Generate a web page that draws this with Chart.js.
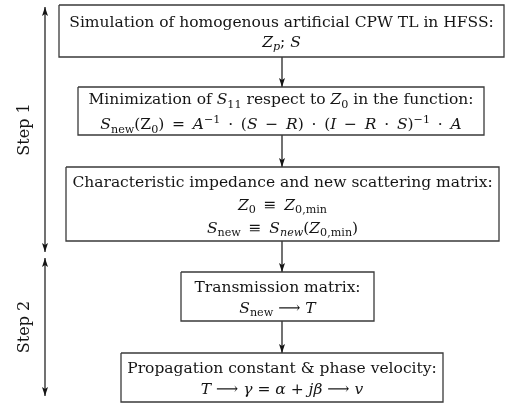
<!DOCTYPE html>
<html>
<head>
<meta charset="utf-8">
<script src="https://cdn.jsdelivr.net/npm/chart.js@4"></script>
<style>
  body { margin: 0; background: #fff; }
  #wrap { width: 510px; height: 405px; }
</style>
</head>
<body>
<div id="wrap"><canvas id="flow" width="510" height="405"></canvas></div>
<script>
// Flow chart content: each box has lines, each line is a list of [text, style] runs
// style: '' plain, 'i' italic, 'b' subscript, 'bi' italic subscript, 'p' superscript
const sp = '\u2002'; // wider space used around math operators
const boxLines = [
    [
        [['Simulation of homogenous artificial CPW TL in HFSS:', '']],
        [['Z', 'i'], ['p', 'bi'], ['; ', ''], ['S', 'i']]
    ],
    [
        [['Minimization of ', ''], ['S', 'i'], ['11', 'b'], [' respect to ', ''], ['Z', 'i'], ['0', 'b'], [' in the function:', '']],
        [['S', 'i'], ['new', 'b'], ['(Z', ''], ['0', 'b'], [')' + sp + '=' + sp, ''], ['A', 'i'], ['\u22121', 'p'], [sp + '\u00b7' + sp + '(', ''], ['S', 'i'], [sp + '\u2212' + sp, ''], ['R', 'i'],
         [')' + sp + '\u00b7' + sp + '(', ''], ['I', 'i'], [sp + '\u2212' + sp, ''], ['R', 'i'], [sp + '\u00b7' + sp, ''], ['S', 'i'], [')', ''], ['\u22121', 'p'], [sp + '\u00b7' + sp, ''], ['A', 'i']]
    ],
    [
        [['Characteristic impedance and new scattering matrix:', '']],
        [['Z', 'i'], ['0', 'b'], [sp + '\u2261' + sp, ''], ['Z', 'i'], ['0,min', 'b']],
        [['S', 'i'], ['new', 'b'], [sp + '\u2261' + sp, ''], ['S', 'i'], ['new', 'bi'], ['(', ''], ['Z', 'i'], ['0,min', 'b'], [')', '']]
    ],
    [
        [['Transmission matrix:', '']],
        [['S', 'i'], ['new', 'b'], [' \u27f6 ', ''], ['T', 'i']]
    ],
    [
        [['Propagation constant & phase velocity:', '']],
        [['T', 'i'], [' \u27f6 ', ''], ['\u03b3', 'i'], [' = ', ''], ['\u03b1', 'i'], [' + ', ''], ['j\u03b2', 'i'], [' \u27f6 ', ''], ['v', 'i']]
    ]
];

// box extents in diagram units (x to the right, y downwards)
const boxLeft = [59, 78, 66, 181, 121];
const boxRight = [504, 484, 499, 374, 443];
const boxTop = [5, 87, 167, 272, 353];
const boxBottom = [57, 135, 241, 321, 402];
const lineGap = [20, 25, 23, 21, 21];

// connecting arrows between boxes
const flowX = 282;

// step brackets on the left
const stepNames = ['Step 1', 'Step 2'];
const stepFrom = [7, 258];
const stepTo = [252, 396];
const stepX = 45;

const fontFamily = '"DejaVu Serif", "Liberation Serif", serif';
const fontSize = 15.5;
const ink = '#151515';
const edge = '#3a3a3a';

// Build the datasets: box outlines, flow arrows, step arrows
const datasets = [];
boxLeft.forEach((l, i) => {
    const r = boxRight[i], t = boxTop[i], b = boxBottom[i];
    datasets.push({
        data: [{x: l, y: t}, {x: r, y: t}, {x: r, y: b}, {x: l, y: b}, {x: l, y: t}],
        borderColor: edge,
        borderWidth: 1.3,
        borderJoinStyle: 'miter'
    });
});
for (let i = 0; i < boxLeft.length - 1; i++) {
    datasets.push({
        data: [{x: flowX, y: boxBottom[i]}, {x: flowX, y: boxTop[i + 1]}],
        borderColor: ink,
        borderWidth: 1.2,
        arrow: 'end'
    });
}
stepNames.forEach((name, i) => {
    datasets.push({
        data: [{x: stepX, y: stepFrom[i]}, {x: stepX, y: stepTo[i]}],
        borderColor: ink,
        borderWidth: 1.2,
        arrow: 'both',
        label: name
    });
});

// draws one line of mixed text centred on cx
function drawRich(ctx, runs, cx, cy) {
    const parts = runs.map(([txt, st]) => {
        const small = st.includes('b') || st.includes('p');
        const size = small ? fontSize * 0.72 : fontSize;
        const font = (st.includes('i') ? 'italic ' : '') + size + 'px ' + fontFamily;
        ctx.font = font;
        let dy = 0;
        if (st.includes('b')) dy = fontSize * 0.25;
        if (st.includes('p')) dy = -fontSize * 0.4;
        return {txt, font, dy, w: ctx.measureText(txt).width};
    });
    const total = parts.reduce((s, p) => s + p.w, 0);
    let x = cx - total / 2;
    const base = cy + fontSize * 0.36;
    parts.forEach(p => {
        ctx.font = p.font;
        ctx.fillText(p.txt, x, base + p.dy);
        x += p.w;
    });
}

function arrowHead(ctx, from, to) {
    const ang = Math.atan2(to.y - from.y, to.x - from.x);
    const len = 9, half = 3;
    ctx.save();
    ctx.translate(to.x, to.y);
    ctx.rotate(ang);
    ctx.beginPath();
    ctx.moveTo(0, 0);
    ctx.lineTo(-len, -half);
    ctx.lineTo(-len + 2, 0);
    ctx.lineTo(-len, half);
    ctx.closePath();
    ctx.fill();
    ctx.restore();
}

const flowPlugin = {
    id: 'flowText',
    afterDatasetsDraw(chart) {
        const ctx = chart.ctx;
        const xs = chart.scales.x, ys = chart.scales.y;
        ctx.save();
        ctx.fillStyle = ink;

        // arrow heads on the arrow datasets
        chart.data.datasets.forEach((ds, i) => {
            if (!ds.arrow) return;
            const pts = chart.getDatasetMeta(i).data;
            const a = pts[0], b = pts[pts.length - 1];
            arrowHead(ctx, a, b);
            if (ds.arrow === 'both') arrowHead(ctx, b, a);
        });

        // box texts
        ctx.textAlign = 'left';
        ctx.textBaseline = 'alphabetic';
        boxLines.forEach((lines, i) => {
            const cx = xs.getPixelForValue((boxLeft[i] + boxRight[i]) / 2);
            const mid = (boxTop[i] + boxBottom[i]) / 2;
            lines.forEach((runs, k) => {
                const cy = ys.getPixelForValue(mid + (k - (lines.length - 1) / 2) * lineGap[i]);
                drawRich(ctx, runs, cx, cy);
            });
        });

        // step labels, rotated
        ctx.font = '16px ' + fontFamily;
        ctx.textAlign = 'center';
        ctx.textBaseline = 'middle';
        stepNames.forEach((name, i) => {
            const x = xs.getPixelForValue(stepX - 20);
            const y = ys.getPixelForValue((stepFrom[i] + stepTo[i]) / 2);
            ctx.save();
            ctx.translate(x, y);
            ctx.rotate(-Math.PI / 2);
            ctx.fillText(name, 0, 0);
            ctx.restore();
        });
        ctx.restore();
    }
};

const ctx = document.getElementById('flow').getContext('2d');
const flowChart = new Chart(ctx, {
    type: 'scatter',
    data: {datasets: datasets},
    options: {
        responsive: false,
        animation: false,
        devicePixelRatio: 1,
        showLine: true,
        elements: {
            point: {radius: 0, hoverRadius: 0},
            line: {tension: 0}
        },
        layout: {padding: 0},
        scales: {
            x: {type: 'linear', min: 0, max: 510, display: false},
            y: {type: 'linear', min: 0, max: 405, reverse: true, display: false}
        },
        plugins: {
            legend: {display: false},
            tooltip: {enabled: false}
        }
    },
    plugins: [flowPlugin]
});
</script>
</body>
</html>
